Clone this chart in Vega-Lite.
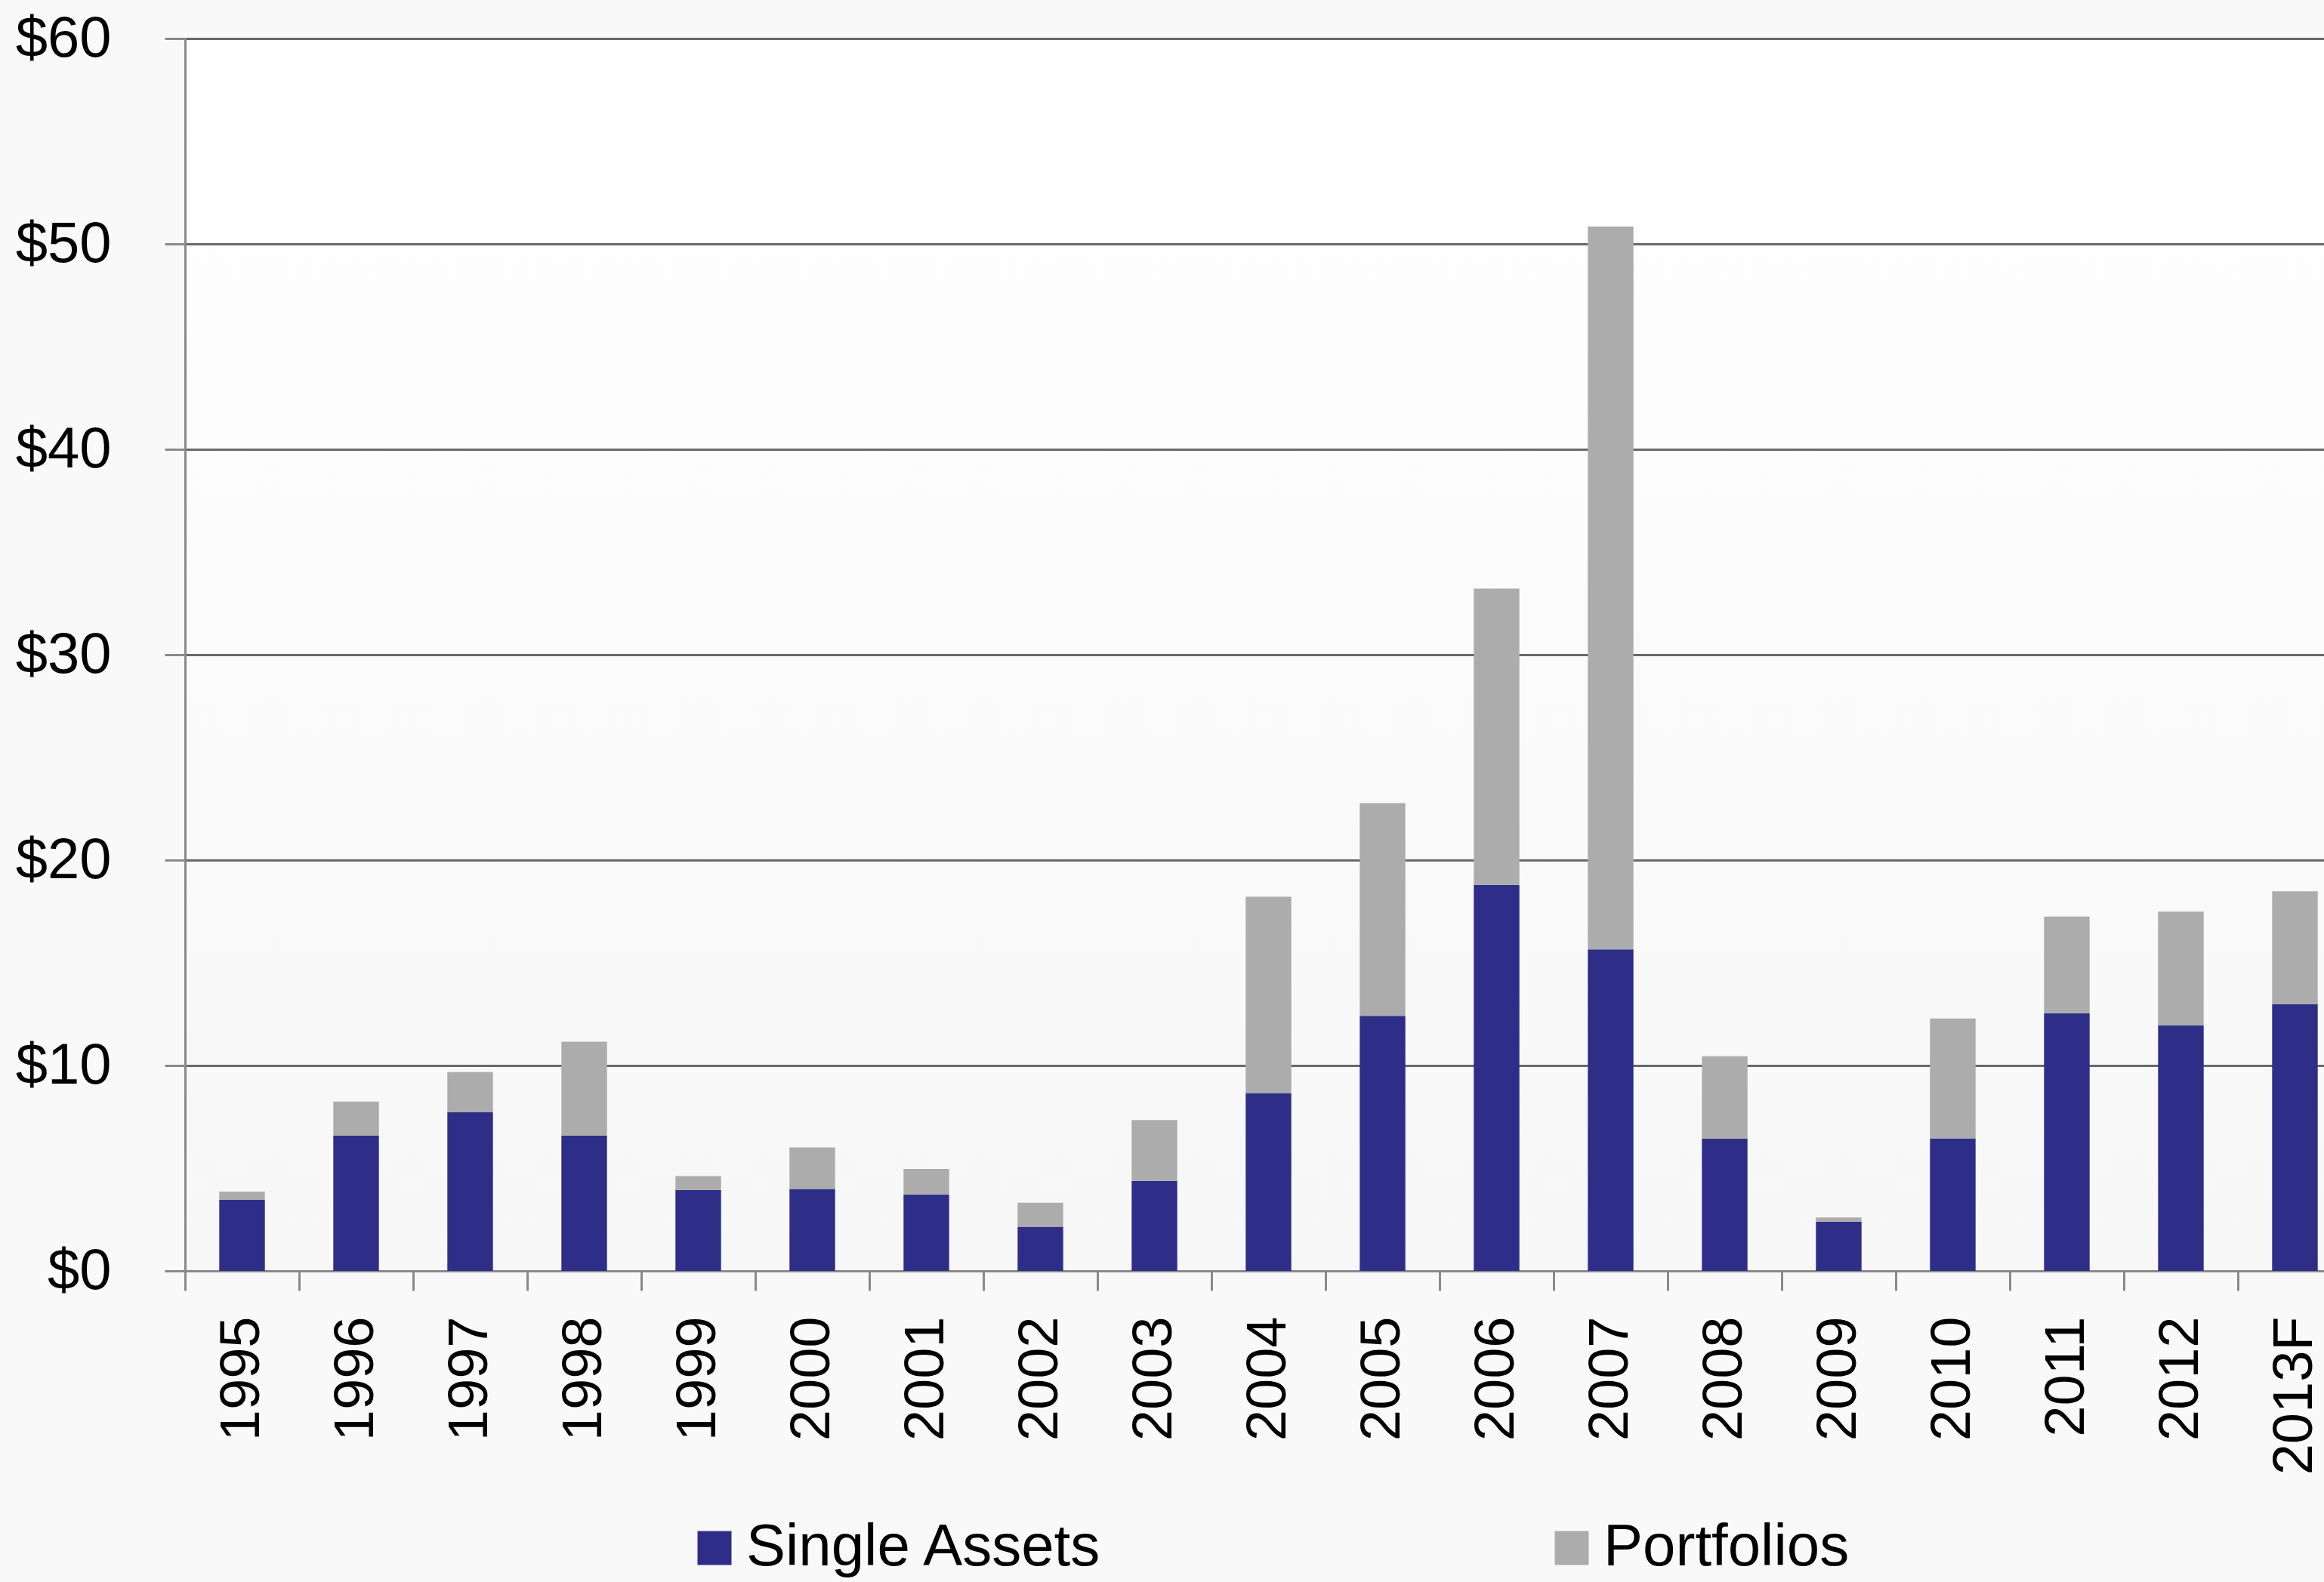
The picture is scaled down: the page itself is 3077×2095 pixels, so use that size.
{
  "$schema": "https://vega.github.io/schema/vega-lite/v6.json",
  "width": 2832,
  "height": 1632,
  "autosize": {"type": "none"},
  "padding": {"left": 245, "top": 51, "right": 0, "bottom": 412},
  "background": "#f9f9fa",
  "config": {
    "view": {
      "stroke": null,
      "fill": {"gradient": "linear", "x1": 0, "y1": 0, "x2": 0, "y2": 1, "stops": [{"offset": 0, "color": "#ffffff"}, {"offset": 1, "color": "#f7f7f8"}]}
    },
    "font": "Liberation Sans, Arial, sans-serif"
  },
  "data": {
    "values": [
      {"year": "1995", "series": "Single Assets", "value": 3.46},
      {"year": "1995", "series": "Portfolios", "value": 0.40},
      {"year": "1996", "series": "Single Assets", "value": 6.58},
      {"year": "1996", "series": "Portfolios", "value": 1.66},
      {"year": "1997", "series": "Single Assets", "value": 7.72},
      {"year": "1997", "series": "Portfolios", "value": 1.96},
      {"year": "1998", "series": "Single Assets", "value": 6.58},
      {"year": "1998", "series": "Portfolios", "value": 4.58},
      {"year": "1999", "series": "Single Assets", "value": 3.94},
      {"year": "1999", "series": "Portfolios", "value": 0.67},
      {"year": "2000", "series": "Single Assets", "value": 3.99},
      {"year": "2000", "series": "Portfolios", "value": 2.02},
      {"year": "2001", "series": "Single Assets", "value": 3.72},
      {"year": "2001", "series": "Portfolios", "value": 1.24},
      {"year": "2002", "series": "Single Assets", "value": 2.15},
      {"year": "2002", "series": "Portfolios", "value": 1.17},
      {"year": "2003", "series": "Single Assets", "value": 4.38},
      {"year": "2003", "series": "Portfolios", "value": 2.96},
      {"year": "2004", "series": "Single Assets", "value": 8.66},
      {"year": "2004", "series": "Portfolios", "value": 9.56},
      {"year": "2005", "series": "Single Assets", "value": 12.42},
      {"year": "2005", "series": "Portfolios", "value": 10.36},
      {"year": "2006", "series": "Single Assets", "value": 18.8},
      {"year": "2006", "series": "Portfolios", "value": 14.42},
      {"year": "2007", "series": "Single Assets", "value": 15.65},
      {"year": "2007", "series": "Portfolios", "value": 35.2},
      {"year": "2008", "series": "Single Assets", "value": 6.43},
      {"year": "2008", "series": "Portfolios", "value": 4.02},
      {"year": "2009", "series": "Single Assets", "value": 2.4},
      {"year": "2009", "series": "Portfolios", "value": 0.2},
      {"year": "2010", "series": "Single Assets", "value": 6.45},
      {"year": "2010", "series": "Portfolios", "value": 5.84},
      {"year": "2011", "series": "Single Assets", "value": 12.55},
      {"year": "2011", "series": "Portfolios", "value": 4.7},
      {"year": "2012", "series": "Single Assets", "value": 11.96},
      {"year": "2012", "series": "Portfolios", "value": 5.53},
      {"year": "2013F", "series": "Single Assets", "value": 12.98},
      {"year": "2013F", "series": "Portfolios", "value": 5.5}
    ]
  },
  "mark": {"type": "bar", "width": {"band": 0.4}},
  "encoding": {
    "x": {
      "field": "year",
      "type": "ordinal",
      "sort": null,
      "scale": {"range": [0, 2869], "paddingInner": 0, "paddingOuter": 0},
      "axis": {
        "title": null,
        "labelAngle": -90,
        "labelAlign": "right",
        "labelBaseline": "middle",
        "labelFontSize": 74,
        "labelColor": "#000000",
        "labelPadding": 34,
        "labelLimit": 0,
        "labelOverlap": false,
        "tickSize": 26,
        "tickWidth": 3,
        "tickColor": "#8a8a8a",
        "domainColor": "#8a8a8a",
        "domainWidth": 3,
        "tickBand": "extent",
        "grid": false
      }
    },
    "y": {
      "field": "value",
      "type": "quantitative",
      "stack": "zero",
      "scale": {"domain": [0, 60], "nice": false},
      "axis": {
        "title": null,
        "values": [0, 10, 20, 30, 40, 50, 60],
        "labelExpr": "'$' + datum.value",
        "labelFontSize": 76,
        "labelColor": "#000000",
        "labelPadding": 71,
        "tickSize": 27,
        "tickWidth": 3,
        "tickColor": "#8a8a8a",
        "domainColor": "#8a8a8a",
        "domainWidth": 3,
        "grid": true,
        "gridColor": "#666a6e",
        "gridWidth": 3
      }
    },
    "color": {
      "field": "series",
      "type": "nominal",
      "scale": {"domain": ["Single Assets", "Portfolios"], "range": ["#2e2e88", "#acacac"]},
      "legend": {
        "title": null,
        "orient": "none",
        "legendX": 662,
        "legendY": 1960,
        "direction": "horizontal",
        "columns": 2,
        "symbolType": "square",
        "symbolSize": 2025,
        "symbolStrokeWidth": 0,
        "symbolOpacity": 1,
        "labelFontSize": 78,
        "labelColor": "#000000",
        "labelOffset": 3,
        "labelLimit": 0,
        "columnPadding": 581
      }
    },
    "order": {"field": "series", "sort": "descending"}
  }
}
